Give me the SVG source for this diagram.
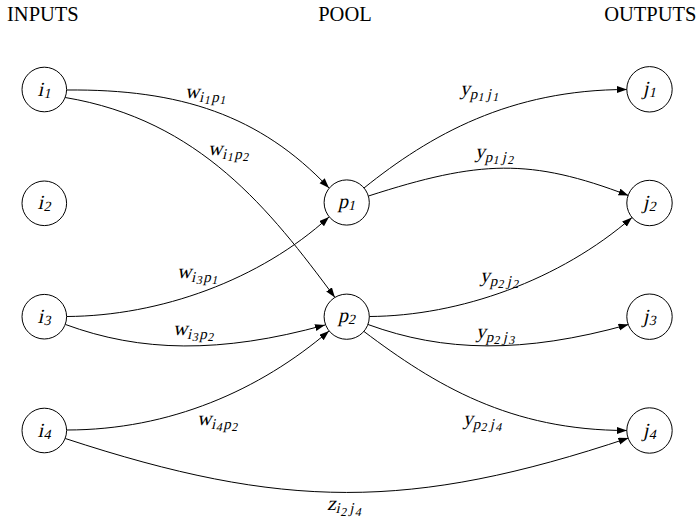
<svg xmlns="http://www.w3.org/2000/svg" width="697" height="525" viewBox="0 0 697 525">
<style>
  .hdr{font-family:"Liberation Serif","Times New Roman",serif;font-size:20.5px;fill:#000}
  .nd circle{fill:#fff;stroke:#000;stroke-width:1}
  .t{font-family:"Liberation Serif","Times New Roman",serif;font-size:20px;font-style:normal;fill:#000}
  .s{font-size:15px}
  .n{font-size:12px}
  .ns{font-size:14px}
  .edges path{fill:none;stroke:#000;stroke-width:1;marker-end:url(#arr)}
</style>
<defs>
  <marker id="arr" markerUnits="userSpaceOnUse" markerWidth="11" markerHeight="8" refX="10" refY="3.5" orient="auto">
    <path d="M0,0 L10,3.5 L0,7 z" fill="#000"/>
  </marker>
</defs>
<rect width="697" height="525" fill="#fff"/>
<g id="headers">
  <text class="hdr" x="7" y="20.5">INPUTS</text>
  <text class="hdr" x="345" y="20.5" text-anchor="middle">POOL</text>
  <text class="hdr" x="696.5" y="20.5" text-anchor="end">OUTPUTS</text>
</g>
<g class="edges" id="connectors">
  <path d="M66.8,90 C180,89 260,115 329,188"/>
  <path d="M65.2,97.5 C200,120 270,210 335,297.5"/>
  <path d="M66.8,316.5 C160,316 260,280 329,217"/>
  <path d="M65.5,324.5 C140,352 220,354 325,325"/>
  <path d="M66.8,430 C170,430 260,390 329,331"/>
  <path d="M65.3,438.5 C283,510 410,511 628.5,438"/>
  <path d="M364,188 C430,135 510,89.5 627,89.5"/>
  <path d="M368.5,196 C480,160 530,158 628.5,195.5"/>
  <path d="M369.2,316.5 C460,316 560,280 632,217.5"/>
  <path d="M368,324.5 C443,352 523,354 628.5,324.5"/>
  <path d="M364,331.5 C435,385 510,430.5 627,430.5"/>
</g>
<g id="edge-labels" class="t">
  <text transform="translate(185,98) skewX(-13)">w<tspan class="s" dx="0.5" dy="3.5">i</tspan><tspan class="n" dx="1" dy="2.5">1</tspan><tspan class="s" dx="1" dy="-2.5">p</tspan><tspan class="n" dx="1" dy="2.5">1</tspan></text>
  <text transform="translate(208,155) skewX(-13)">w<tspan class="s" dx="0.5" dy="3.5">i</tspan><tspan class="n" dx="1" dy="2.5">1</tspan><tspan class="s" dx="1" dy="-2.5">p</tspan><tspan class="n" dx="1" dy="2.5">2</tspan></text>
  <text transform="translate(177,278) skewX(-13)">w<tspan class="s" dx="0.5" dy="3.5">i</tspan><tspan class="n" dx="1" dy="2.5">3</tspan><tspan class="s" dx="1" dy="-2.5">p</tspan><tspan class="n" dx="1" dy="2.5">1</tspan></text>
  <text transform="translate(173,335) skewX(-13)">w<tspan class="s" dx="0.5" dy="3.5">i</tspan><tspan class="n" dx="1" dy="2.5">3</tspan><tspan class="s" dx="1" dy="-2.5">p</tspan><tspan class="n" dx="1" dy="2.5">2</tspan></text>
  <text transform="translate(197,425) skewX(-13)">w<tspan class="s" dx="0.5" dy="3.5">i</tspan><tspan class="n" dx="1" dy="2.5">4</tspan><tspan class="s" dx="1" dy="-2.5">p</tspan><tspan class="n" dx="1" dy="2.5">2</tspan></text>
  <text transform="translate(460,95) skewX(-13)">y<tspan class="s" dx="0.5" dy="3.5">p</tspan><tspan class="n" dx="1" dy="2.5">1</tspan><tspan class="s" dx="2.5" dy="-2.5">j</tspan><tspan class="n" dx="2" dy="2.5">1</tspan></text>
  <text transform="translate(475,158) skewX(-13)">y<tspan class="s" dx="0.5" dy="3.5">p</tspan><tspan class="n" dx="1" dy="2.5">1</tspan><tspan class="s" dx="2.5" dy="-2.5">j</tspan><tspan class="n" dx="2" dy="2.5">2</tspan></text>
  <text transform="translate(480,282) skewX(-13)">y<tspan class="s" dx="0.5" dy="3.5">p</tspan><tspan class="n" dx="1" dy="2.5">2</tspan><tspan class="s" dx="2.5" dy="-2.5">j</tspan><tspan class="n" dx="2" dy="2.5">2</tspan></text>
  <text transform="translate(476,338) skewX(-13)">y<tspan class="s" dx="0.5" dy="3.5">p</tspan><tspan class="n" dx="1" dy="2.5">2</tspan><tspan class="s" dx="2.5" dy="-2.5">j</tspan><tspan class="n" dx="2" dy="2.5">3</tspan></text>
  <text transform="translate(463,425) skewX(-13)">y<tspan class="s" dx="0.5" dy="3.5">p</tspan><tspan class="n" dx="1" dy="2.5">2</tspan><tspan class="s" dx="2.5" dy="-2.5">j</tspan><tspan class="n" dx="2" dy="2.5">4</tspan></text>
  <text transform="translate(327,509.5) skewX(-13)">z<tspan class="s" dx="0.5" dy="3.5">i</tspan><tspan class="n" dx="1" dy="2.5">2</tspan><tspan class="s" dx="2.5" dy="-2.5">j</tspan><tspan class="n" dx="2" dy="2.5">4</tspan></text>
</g>
<g id="i1" class="nd"><circle cx="44.3" cy="89.5" r="22.3"/><text class="t" transform="translate(44.3,95.5) skewX(-13)" text-anchor="middle">i<tspan class="ns" dx="1" dy="2">1</tspan></text></g>
<g id="i2" class="nd"><circle cx="44.3" cy="203.3" r="22.3"/><text class="t" transform="translate(44.3,209.3) skewX(-13)" text-anchor="middle">i<tspan class="ns" dx="1" dy="2">2</tspan></text></g>
<g id="i3" class="nd"><circle cx="44.3" cy="316.7" r="22.3"/><text class="t" transform="translate(44.3,322.7) skewX(-13)" text-anchor="middle">i<tspan class="ns" dx="1" dy="2">3</tspan></text></g>
<g id="i4" class="nd"><circle cx="44.3" cy="430.5" r="22.3"/><text class="t" transform="translate(44.3,436.5) skewX(-13)" text-anchor="middle">i<tspan class="ns" dx="1" dy="2">4</tspan></text></g>
<g id="p1" class="nd"><circle cx="346.7" cy="202.5" r="22.6"/><text class="t" transform="translate(346.7,207.5) skewX(-13)" text-anchor="middle">p<tspan class="ns" dx="0.5" dy="2">1</tspan></text></g>
<g id="p2" class="nd"><circle cx="346.7" cy="316.7" r="22.6"/><text class="t" transform="translate(346.7,321.7) skewX(-13)" text-anchor="middle">p<tspan class="ns" dx="0.5" dy="2">2</tspan></text></g>
<g id="j1" class="nd"><circle cx="649.5" cy="89.3" r="22.7"/><text class="t" transform="translate(649.5,95.3) skewX(-13)" text-anchor="middle">j<tspan class="ns" dx="1" dy="2">1</tspan></text></g>
<g id="j2" class="nd"><circle cx="649.5" cy="203" r="22.7"/><text class="t" transform="translate(649.5,209) skewX(-13)" text-anchor="middle">j<tspan class="ns" dx="1" dy="2">2</tspan></text></g>
<g id="j3" class="nd"><circle cx="649.5" cy="316.7" r="22.7"/><text class="t" transform="translate(649.5,322.7) skewX(-13)" text-anchor="middle">j<tspan class="ns" dx="1" dy="2">3</tspan></text></g>
<g id="j4" class="nd"><circle cx="649.5" cy="430.5" r="22.7"/><text class="t" transform="translate(649.5,436.5) skewX(-13)" text-anchor="middle">j<tspan class="ns" dx="1" dy="2">4</tspan></text></g>
</svg>
